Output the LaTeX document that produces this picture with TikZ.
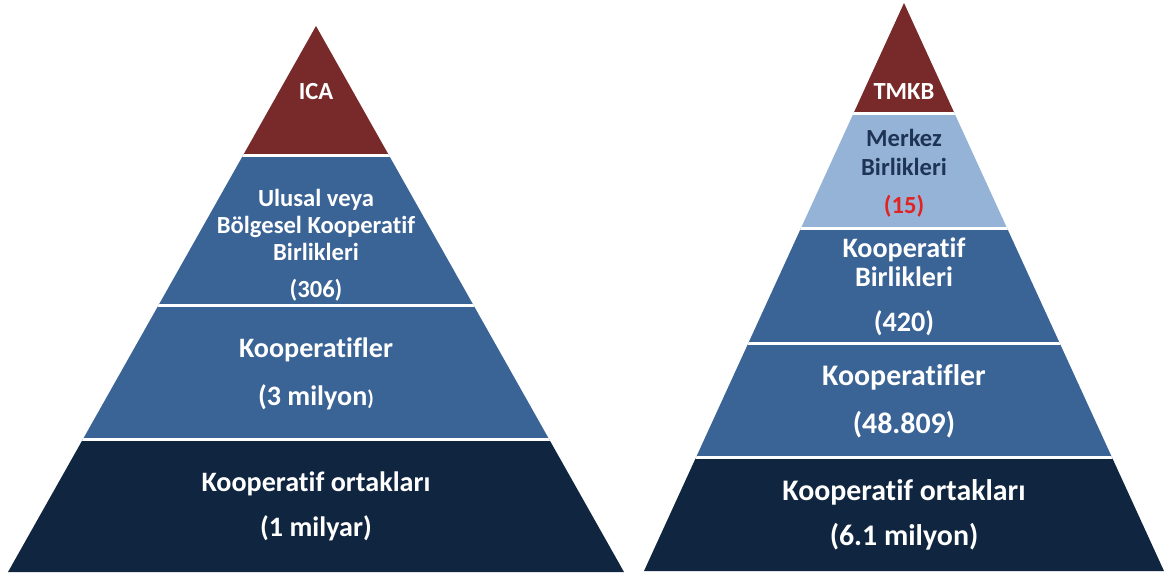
\documentclass[tikz,border=0pt]{standalone}
\usepackage{fontspec}
\setmainfont{Carlito}[Ligatures={NoCommon}, RawFeature={-liga;-clig}]
\usepackage{tikz}
\definecolor{tepered}{HTML}{782A2A}
\definecolor{katblue}{HTML}{3A6396}
\definecolor{acikblue}{HTML}{95B3D7}
\definecolor{lacivert}{HTML}{10253F}
\definecolor{yazinavy}{HTML}{1F3455}
\definecolor{sayired}{HTML}{E32222}

\begin{document}
\begin{tikzpicture}[x=0.02cm, y=-0.02cm,
    etiket/.style={text=white, font=\bfseries\fontsize{16}{27}\selectfont, align=center, inner sep=0pt},
    kucuk/.style={etiket, font=\bfseries\fontsize{14}{15.3}\selectfont},
    ayirici/.style={white, line width=1.7pt}]
    \useasboundingbox (0,0) rectangle (1165,576);

    \begin{scope}
        \clip (316,26) -- (8,572) -- (624,572) -- cycle;
        \fill[tepered] (0,0) rectangle (640,155);
        \fill[katblue] (0,155) rectangle (640,439);
        \fill[lacivert] (0,439) rectangle (640,576);
        \draw[ayirici] (0,155) -- (640,155);
        \draw[ayirici] (0,305) -- (640,305);
        \draw[ayirici] (0,439) -- (640,439);
    \end{scope}

    \begin{scope}
        \clip (904,3) -- (644,571) -- (1164,571) -- cycle;
        \fill[tepered] (640,0) rectangle (1165,113);
        \fill[acikblue] (640,113) rectangle (1165,228);
        \fill[katblue] (640,228) rectangle (1165,457);
        \fill[lacivert] (640,457) rectangle (1165,576);
        \draw[ayirici] (640,113) -- (1165,113);
        \draw[ayirici] (640,228) -- (1165,228);
        \draw[ayirici] (640,343) -- (1165,343);
        \draw[ayirici] (640,457) -- (1165,457);
    \end{scope}

    \node[kucuk] (ica) at (316,92) {ICA};
    \node[kucuk] (ulusal) at (316,225) {Ulusal veya\\Bölgesel Kooperatif\\Birlikleri};
    \node[kucuk] (s306) at (316,290) {(306)};
    \node[etiket] (koop) at (316,350) {Kooperatifler};
    \node[etiket] (s3m) at (316,397) {(3 milyon{\fontsize{12}{12}\selectfont)}};
    \node[etiket] (ortak) at (316,484) {Kooperatif ortakları};
    \node[etiket] (s1m) at (316,528) {(1 milyar)};

    \node[kucuk] (tmkb) at (904,92) {TMKB};
    \node[kucuk, text=yazinavy, font=\bfseries\fontsize{14}{16.5}\selectfont] (merkez) at (904,152) {Merkez\\Birlikleri};
    \node[kucuk, text=sayired] (s15) at (904,206) {(15)};
    \node[etiket, font=\bfseries\fontsize{16}{16.5}\selectfont] (koopbir) at (904,262) {Kooperatif\\Birlikleri};
    \node[etiket] (s420) at (904,323) {(420)};
    \node[etiket, font=\bfseries\fontsize{17}{27}\selectfont] (koopr) at (904,377) {Kooperatifler};
    \node[etiket, font=\bfseries\fontsize{17}{27}\selectfont] (s48) at (904,425) {(48.809)};
    \node[etiket, font=\bfseries\fontsize{17}{27}\selectfont] (ortakr) at (904,492) {Kooperatif ortakları};
    \node[etiket, font=\bfseries\fontsize{17}{27}\selectfont] (s61) at (904,537) {(6.1 milyon)};
\end{tikzpicture}
\end{document}
